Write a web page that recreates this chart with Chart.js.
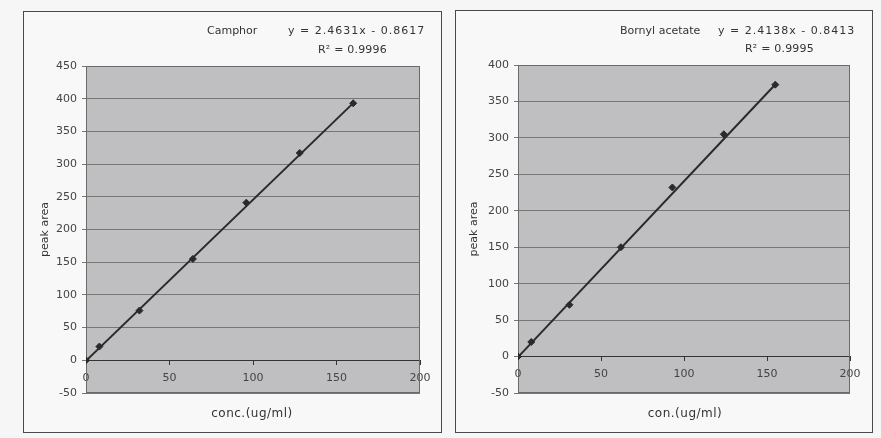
<!DOCTYPE html>
<html>
<head>
<meta charset="utf-8">
<script src="https://cdn.jsdelivr.net/npm/chart.js@4/dist/chart.umd.min.js"></script>
<style>
  body { margin: 0; width: 881px; height: 438px; background: #f6f6f6; position: relative; overflow: hidden; font-family: "DejaVu Sans", sans-serif; }
  .panel { position: absolute; border: 1px solid #4a4a4a; box-sizing: border-box; background: #f8f8f8; }
  .txt { position: absolute; font-size: 11px; line-height: 13px; color: #333; white-space: nowrap; }
  .eq { letter-spacing: 1px; }
  .r2 { letter-spacing: 0.2px; }
  .xt { position: absolute; width: 200px; text-align: center; font-size: 12px; line-height: 14px; color: #333; letter-spacing: 0.5px; }
</style>
</head>
<body>
<div class="panel" style="left:23px;top:11px;width:419px;height:422px"><canvas id="camphor"></canvas></div>
<div class="panel" style="left:455px;top:10px;width:418px;height:423px"><canvas id="bornyl"></canvas></div>

<div class="txt" style="left:207px;top:24px">Camphor</div>
<div class="txt eq" style="left:288px;top:24px">y = 2.4631x - 0.8617</div>
<div class="txt r2" style="left:318px;top:43px">R² = 0.9996</div>
<div class="xt" style="left:152px;top:406px">conc.(ug/ml)</div>

<div class="txt" style="left:620px;top:24px">Bornyl acetate</div>
<div class="txt eq" style="left:718px;top:24px">y = 2.4138x - 0.8413</div>
<div class="txt r2" style="left:745px;top:42px">R² = 0.9995</div>
<div class="xt" style="left:585px;top:406px">con.(ug/ml)</div>

<script>
// Camphor calibration
const camphorConc = [0, 8, 32, 64, 96, 128, 160];
const camphorArea = [0, 21, 76, 155, 241, 317, 393];
const camphorTrendX = [0, 160];
const camphorTrendY = [-0.86, 393.2];

// Bornyl acetate calibration
const bornylConc = [0, 8, 31, 62, 93, 124, 155];
const bornylArea = [0, 20, 71, 150, 232, 305, 373];
const bornylTrendX = [0, 155];
const bornylTrendY = [-0.84, 373.3];

// axis ranges
const xRange = [0, 200];
const camphorYRange = [-50, 450];
const bornylYRange = [-50, 400];

const plotBg = {
  id: "plotBg",
  beforeDraw(chart) {
    const { ctx, chartArea: a } = chart;
    ctx.save();
    ctx.fillStyle = "#bfbec1";
    ctx.fillRect(a.left, a.top, a.width, a.height);
    ctx.restore();
  },
  beforeDatasetsDraw(chart) {
    const { ctx, chartArea: a } = chart;
    ctx.save();
    ctx.strokeStyle = "#6a6a6a";
    ctx.lineWidth = 1;
    ctx.strokeRect(a.left + 0.5, a.top + 0.5, a.width - 1, a.height - 1);
    ctx.restore();
  },
};

const toPts = (xs, ys) => xs.map((x, i) => ({ x: x, y: ys[i] }));

const createCalChart = (ctx, conc, area, tx, ty, yRange, pad, yWidth) => {
  return new Chart(ctx, {
    type: "scatter",
    data: {
      datasets: [
        {
          data: toPts(conc, area),
          pointStyle: "rectRot",
          pointRadius: 3.5,
          backgroundColor: "#2a2a2a",
          borderColor: "#2a2a2a",
          showLine: false,
        },
        {
          data: toPts(tx, ty),
          showLine: true,
          borderColor: "#2a2a2a",
          borderWidth: 2,
          pointRadius: 0,
        },
      ],
    },
    options: {
      responsive: true,
      maintainAspectRatio: false,
      animation: false,
      layout: { padding: pad },
      scales: {
        x: {
          type: "linear",
          position: { y: 0 },
          min: xRange[0],
          max: xRange[1],
          ticks: { stepSize: 50, color: "#444", font: { family: "DejaVu Sans", size: 11 }, padding: 7, maxRotation: 0 },
          grid: { drawOnChartArea: false, color: "#333", tickLength: 4 },
          border: { color: "#333", width: 1 },
          afterFit: (s) => { s.height = 0; },
        },
        y: {
          min: yRange[0],
          max: yRange[1],
          ticks: { stepSize: 50, color: "#444", font: { family: "DejaVu Sans", size: 11 }, padding: 5 },
          grid: { color: "#777", tickLength: 4 },
          border: { color: "#6a6a6a" },
          title: { display: true, text: "peak area", color: "#333", font: { family: "DejaVu Sans", size: 11 } },
          afterFit: (s) => { s.width = yWidth; },
        },
      },
      plugins: {
        legend: { display: false },
        tooltip: { enabled: false },
      },
    },
    plugins: [plotBg],
  });
};

createCalChart(document.getElementById("camphor"), camphorConc, camphorArea, camphorTrendX, camphorTrendY,
  camphorYRange, { left: 11, top: 54, right: 21, bottom: 39 }, 51);
createCalChart(document.getElementById("bornyl"), bornylConc, bornylArea, bornylTrendX, bornylTrendY,
  bornylYRange, { left: 8, top: 54, right: 22, bottom: 39 }, 54);
</script>
</body>
</html>
